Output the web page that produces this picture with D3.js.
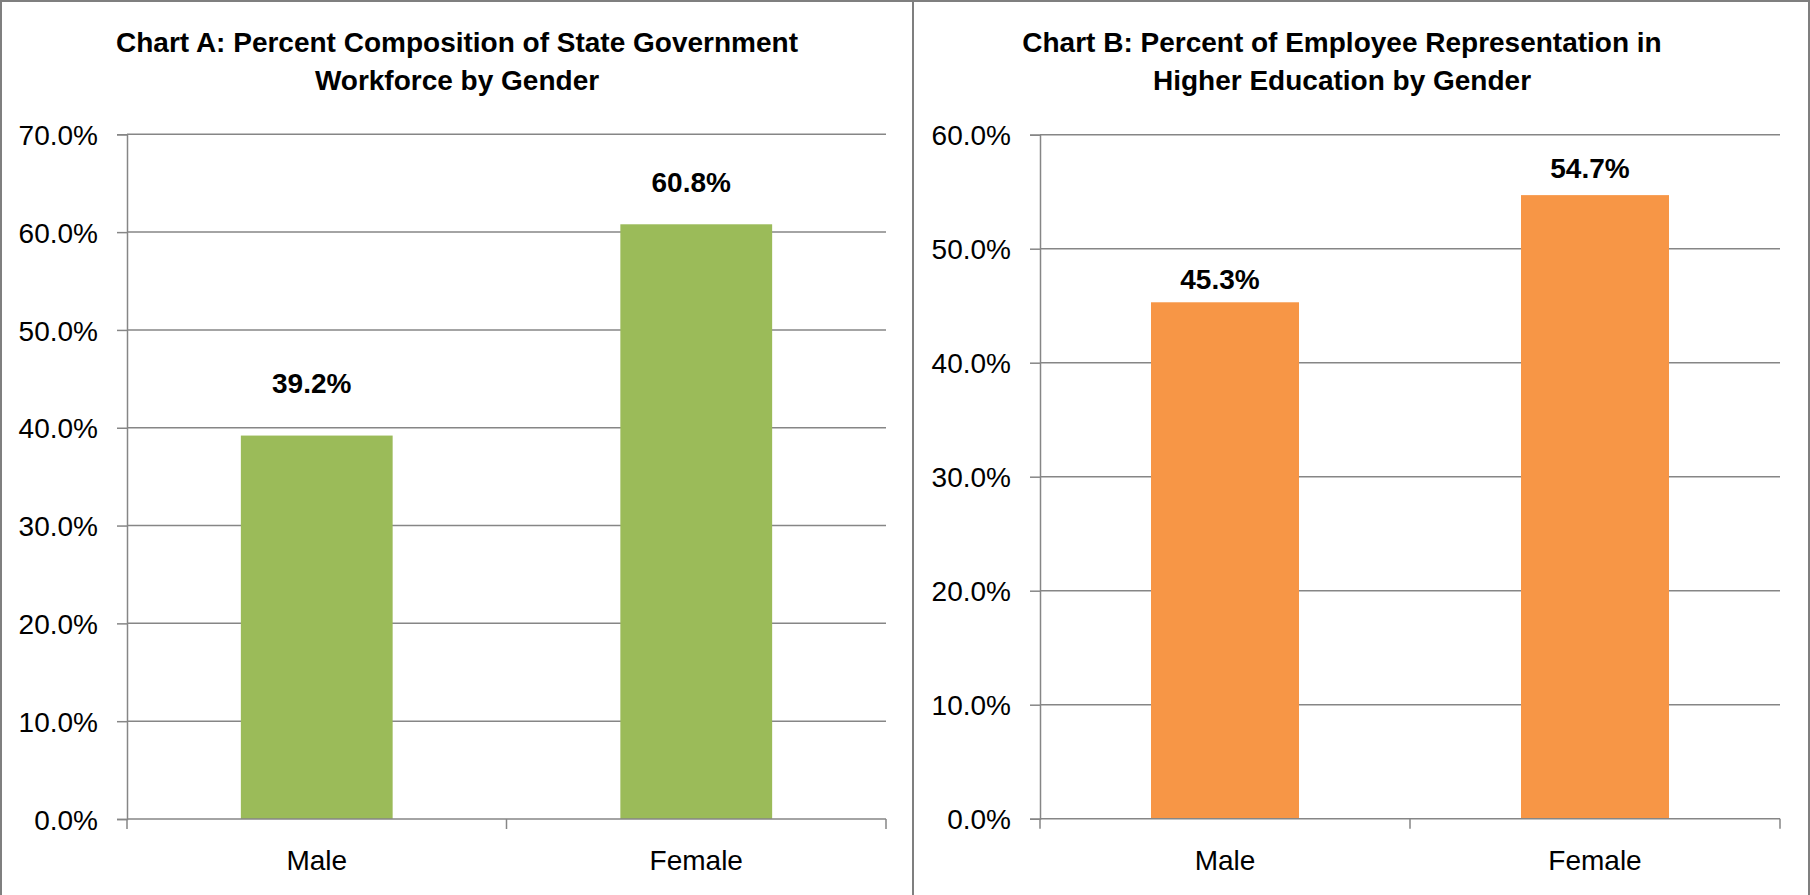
<!DOCTYPE html>
<html lang="en">
  <head>
    <meta charset="UTF-8" />
    <title>Gender charts</title>
    <script src="https://d3js.org/d3.v7.min.js"></script>
    <style>
      body {
        margin: 0;
        background-color: #FFFFFF;
        font-family: "Liberation Sans", Arial, sans-serif;
      }
      svg text {
        font-family: "Liberation Sans", Arial, sans-serif;
        font-size: 28px;
        fill: #000000;
      }
    </style>
  </head>
  <body>
    <div id="my_dataviz"></div>
    <script>
      // data
      var categories = ["Male", "Female"];
      var workforceShare = [39.2, 60.8];
      var higherEdShare = [45.3, 54.7];
      var ticksA = [0, 10, 20, 30, 40, 50, 60, 70];
      var ticksB = [0, 10, 20, 30, 40, 50, 60];
      var titleA = ["Chart A: Percent Composition of State Government", "Workforce by Gender"];
      var titleB = ["Chart B: Percent of Employee Representation in", "Higher Education by Gender"];

      var W = 1810, H = 895;
      var lineColor = "#868686";

      var svg = d3.select("#my_dataviz")
        .append("svg")
        .attr("width", W)
        .attr("height", H);

      // one panel per chart (layout only)
      var charts = [
        { values: workforceShare, ticks: ticksA, title: titleA, color: "#9BBB59",
          x0: 127, x1: 886, top: 134.3, bottom: 819, titleX: 457, labelGap: [43, 32] },
        { values: higherEdShare, ticks: ticksB, title: titleB, color: "#F79646",
          x0: 1040, x1: 1780, top: 134.7, bottom: 818.7, titleX: 1342, labelGap: [13, 17] }
      ];

      charts.forEach(function (c) {
        var g = svg.append("g");

        var x = d3.scaleBand()
          .domain(categories)
          .range([c.x0, c.x1])
          .paddingInner(0.6)
          .paddingOuter(0.3);

        var y = d3.scaleLinear()
          .domain([0, d3.max(c.ticks)])
          .range([c.bottom, c.top]);

        // gridlines
        g.selectAll(".grid")
          .data(c.ticks.filter(function (t) { return t > 0; }))
          .enter()
          .append("line")
          .attr("x1", c.x0)
          .attr("x2", c.x1)
          .attr("y1", function (d) { return y(d); })
          .attr("y2", function (d) { return y(d); })
          .attr("stroke", lineColor)
          .attr("stroke-width", 1.5);

        // bars
        g.selectAll(".bar")
          .data(c.values)
          .enter()
          .append("rect")
          .attr("x", function (d, i) { return x(categories[i]); })
          .attr("y", function (d) { return y(d); })
          .attr("width", x.bandwidth())
          .attr("height", function (d) { return y(0) - y(d); })
          .attr("fill", c.color);

        // y axis
        var yAxis = g.append("g")
          .attr("transform", "translate(" + c.x0 + ",0)")
          .call(d3.axisLeft(y)
            .tickValues(c.ticks)
            .tickSize(10)
            .tickPadding(19)
            .tickFormat(function (d) { return d3.format(".1f")(d) + "%"; }));
        yAxis.select(".domain").attr("stroke", lineColor).attr("stroke-width", 1.5);
        yAxis.selectAll(".tick line").attr("stroke", lineColor).attr("stroke-width", 1.5);
        yAxis.selectAll("text")
          .attr("font-family", null)
          .attr("font-size", null)
          .attr("dy", "0.36em");
        yAxis.attr("font-family", null).attr("font-size", null);

        // x axis: line, boundary ticks, category labels
        var step = x.step();
        var bounds = [0, 1, 2].map(function (k) { return c.x0 + k * step; });
        g.append("line")
          .attr("x1", c.x0).attr("x2", c.x1)
          .attr("y1", y(0)).attr("y2", y(0))
          .attr("stroke", lineColor).attr("stroke-width", 1.5);
        g.selectAll(".xtick")
          .data(bounds)
          .enter()
          .append("line")
          .attr("x1", function (d) { return d; })
          .attr("x2", function (d) { return d; })
          .attr("y1", y(0))
          .attr("y2", y(0) + 10)
          .attr("stroke", lineColor)
          .attr("stroke-width", 1.5);

        var xAxis = g.append("g")
          .attr("transform", "translate(0," + y(0) + ")")
          .call(d3.axisBottom(x).tickSize(0).tickPadding(0));
        xAxis.select(".domain").remove();
        xAxis.attr("font-family", null).attr("font-size", null);
        xAxis.selectAll("text").attr("dy", null).attr("y", 51);

        // data labels
        g.selectAll(".label")
          .data(c.values)
          .enter()
          .append("text")
          .attr("x", function (d, i) { return x(categories[i]) + x.bandwidth() / 2 - 5; })
          .attr("y", function (d, i) { return y(d) - c.labelGap[i]; })
          .attr("text-anchor", "middle")
          .attr("font-weight", 700)
          .text(function (d) { return d3.format(".1f")(d) + "%"; });

        // title
        g.selectAll(".title")
          .data(c.title)
          .enter()
          .append("text")
          .attr("x", c.titleX)
          .attr("y", function (d, i) { return 52 + i * 38; })
          .attr("text-anchor", "middle")
          .attr("font-weight", 700)
          .text(function (d) { return d; });
      });

      // panel borders
      svg.append("path")
        .attr("d", "M1," + H + "V1H1809V" + H + "M913,1V" + H)
        .attr("fill", "none")
        .attr("stroke", "#7F7F7F")
        .attr("stroke-width", 2);
    </script>
  </body>
</html>
